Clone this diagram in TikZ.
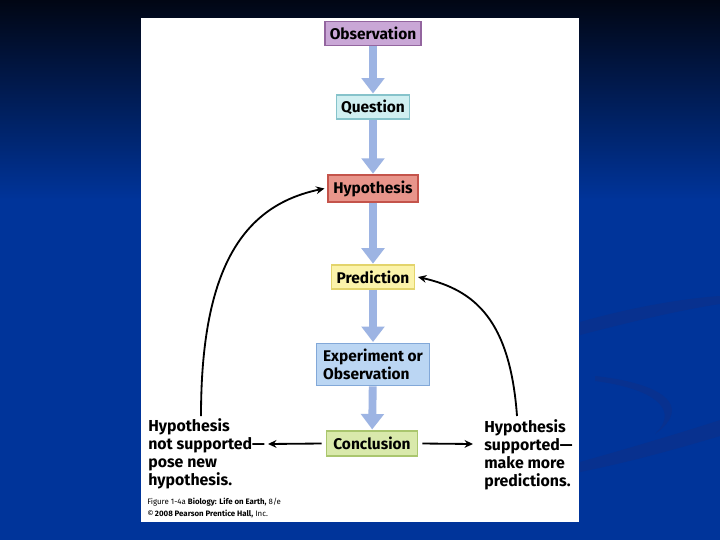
\documentclass[tikz,border=0pt]{standalone}
\usepackage{fontspec}
\setmainfont{Fira Sans}
\usetikzlibrary{arrows.meta,positioning}
\definecolor{SlideTop}{HTML}{010614}
\definecolor{SlideBlue}{HTML}{00349A}
\definecolor{SlideSwoosh}{HTML}{08318F}
\definecolor{FlowBlue}{HTML}{9DB4E3}
\definecolor{ObsFill}{HTML}{C9A7D6}
\definecolor{ObsLine}{HTML}{93659F}
\definecolor{QuesFill}{HTML}{D0EFF1}
\definecolor{QuesLine}{HTML}{86C3CB}
\definecolor{HypFill}{HTML}{E8958B}
\definecolor{HypLine}{HTML}{C4544B}
\definecolor{PredFill}{HTML}{FBF3AA}
\definecolor{PredLine}{HTML}{E3D46C}
\definecolor{ExpFill}{HTML}{BBD6F3}
\definecolor{ExpLine}{HTML}{82A8D8}
\definecolor{ConFill}{HTML}{D9E9AB}
\definecolor{ConLine}{HTML}{AAC66E}

\begin{document}
\begin{tikzpicture}[x=0.025cm, y=-0.025cm,
    stepbox/.style={draw=#1Line, fill=#1Fill, line width=1pt,
      font=\fontsize{11}{12.8}\selectfont\bfseries, inner xsep=3pt,
      minimum height=17pt},
    flow/.style={draw=FlowBlue, line width=5.6pt,
      -{Triangle[width=16pt,length=11pt]}, shorten >=0.5pt},
    back/.style={line width=1.3pt, -{Stealth[length=6pt,width=5.5pt]}},
    sidetext/.style={font=\fontsize{11.3}{12.8}\selectfont\bfseries,
      align=left, anchor=north west, inner sep=0pt}]
  % slide background
  \useasboundingbox (0,0) rectangle (720,540);
  \shade[top color=SlideTop, bottom color=SlideBlue] (0,0) rectangle (720,200);
  \fill[SlideBlue] (0,199) rectangle (720,540);
  \fill[SlideSwoosh] (580,322) .. controls (640,305) and (690,298) .. (720,296)
    -- (720,304) .. controls (680,310) and (630,322) .. (580,335) -- cycle;
  \fill[SlideSwoosh] (595,376) .. controls (660,383) and (695,405) .. (655,434)
    .. controls (682,408) and (650,388) .. (595,381) -- cycle;
  \fill[SlideSwoosh] (580,462) .. controls (640,445) and (690,430) .. (720,420)
    -- (720,436) .. controls (680,448) and (630,462) .. (580,472) -- cycle;
  % white figure panel
  \fill[white] (141,18) rectangle (579,522);

  % main sequence
  \node[stepbox=Obs, minimum width=68pt] (obs) at (373,33.5) {Observation};
  \node[stepbox=Ques, minimum width=52pt] (quest) at (373,107) {Question};
  \node[stepbox=Hyp, minimum width=64pt, minimum height=19pt] (hyp) at (373,188.5) {Hypothesis};
  \node[stepbox=Pred, minimum width=59pt] (pred) at (373,277) {Prediction};
  \node[stepbox=Exp, align=left, minimum width=80pt, minimum height=30pt,
    inner ysep=3pt] (expt) at (373,364.5) {Experiment or\\Observation};
  \node[stepbox=Con, minimum width=65pt, minimum height=18pt] (concl) at (372,443.5) {Conclusion};

  \draw[flow] (obs) -- (quest);
  \draw[flow] (quest) -- (hyp);
  \draw[flow] (hyp) -- (pred);
  \draw[flow] (pred) -- (expt);
  \draw[flow] (expt) -- (concl);

  % outcomes
  \node[sidetext] (notsup) at (148,418)
    {Hypothesis\\not supported---\\pose new\\hypothesis.};
  \node[sidetext] (sup) at (484,419)
    {Hypothesis\\supported---\\make more\\predictions.};
  \coordinate (notsupend) at (268,444);
  \coordinate (supend) at (473,444);
  \coordinate (notsuptop) at (201,416);
  \coordinate (suptop) at (517,416);

  \draw[back] (concl.west) ++(-4,0) -- (notsupend);
  \draw[back] (concl.east) ++(4,0) -- (supend);
  \draw[back] (notsuptop) .. controls (201,265) and (245,205) .. ([xshift=-2pt]hyp.west);
  \draw[back] (suptop) .. controls (510,320) and (475,290) .. ([xshift=2pt]pred.east);

  % credit line
  \node[anchor=north west, inner sep=0pt, align=left,
    font=\fontsize{5.6}{8.5}\selectfont] (credit) at (147,498)
    {Figure 1-4a \textbf{Biology: Life on Earth,} 8/e\\
     \textcopyright\,\textbf{2008 Pearson Prentice Hall,} Inc.};
\end{tikzpicture}
\end{document}
